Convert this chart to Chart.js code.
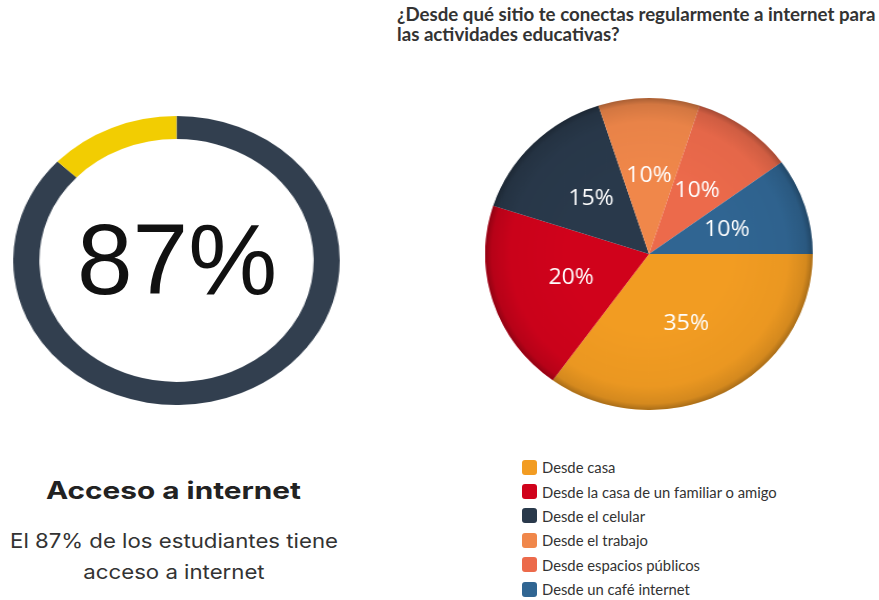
<!DOCTYPE html>
<html lang="es">
<head>
<meta charset="utf-8">
<title>Acceso a internet</title>
<script src="https://cdn.jsdelivr.net/npm/chart.js@4"></script>
<style>
  html, body { margin: 0; padding: 0; background: #fff; }
  body { width: 879px; height: 600px; position: relative; overflow: hidden; }
  .box { position: absolute; }
  #ringBox { left: 32px; top: 116px; width: 289px; height: 289px; transform: scaleX(1.13); transform-origin: center; }
  #pieBox { left: 493px; top: 98px; width: 312px; height: 312px; transform: scaleX(1.05); transform-origin: center; }
  #ringValue { left: 0; top: 209px; width: 354px; text-align: center; font: 100px "Liberation Sans", Arial, sans-serif; line-height: 1; color: #111; }
  #leftTitle { left: 0; top: 477px; width: 347px; text-align: center; font: bold 24px Inter, sans-serif; line-height: 28px; color: #222; transform: scaleX(1.24); transform-origin: center; }
  #leftText { left: 0; top: 526px; width: 348px; text-align: center; font: 20px Inter, sans-serif; line-height: 31px; color: #333; transform: scaleX(1.11); transform-origin: center; }
  #rightTitle { left: 397px; top: 5px; width: 482px; font: bold 18.7px Lato, sans-serif; line-height: 19.5px; color: #333; }
  #legend { left: 522px; top: 455px; margin: 0; padding: 0; list-style: none; font: 14.8px Lato, sans-serif; color: #333; }
  #legend li { height: 24.4px; display: flex; align-items: center; }
  #legend span { width: 15px; height: 15px; border-radius: 3px; margin-right: 5px; display: inline-block; }
</style>
</head>
<body>
<div class="box" id="ringBox"><canvas id="ringChart"></canvas></div>
<div class="box" id="ringValue"></div>
<div class="box" id="leftTitle">Acceso a internet</div>
<div class="box" id="leftText"></div>

<div class="box" id="rightTitle">¿Desde qué sitio te conectas regularmente a internet para las actividades educativas?</div>
<div class="box" id="pieBox"><canvas id="pieChart"></canvas></div>
<ul class="box" id="legend"></ul>

<script>
// Acceso a internet (anillo)
const accessLabels = ['Con acceso', 'Sin acceso'];
const accessValues = [87, 13];
const accessColors = ['#323f4f', '#f2cd02'];

// Lugar de conexión (pastel)
const placeLabels = [
    'Desde casa',
    'Desde la casa de un familiar o amigo',
    'Desde el celular',
    'Desde el trabajo',
    'Desde espacios públicos',
    'Desde un café internet'
];
const placeValues = [35, 20, 15, 10, 10, 10];
const placeColors = ['#f29c22', '#d0021b', '#29394b', '#f0874a', '#ec6a4b', '#306592'];

document.getElementById('ringValue').textContent = accessValues[0] + '%';
document.getElementById('leftText').innerHTML =
    'El ' + accessValues[0] + '% de los estudiantes tiene<br>acceso a internet';

// legend list
const legend = document.getElementById('legend');
placeLabels.forEach(function(label, i) {
    const li = document.createElement('li');
    const sw = document.createElement('span');
    sw.style.background = placeColors[i];
    li.appendChild(sw);
    li.appendChild(document.createTextNode(label));
    legend.appendChild(li);
});

new Chart(document.getElementById('ringChart'), {
    type: 'doughnut',
    data: {
        labels: accessLabels,
        datasets: [{
            data: accessValues,
            backgroundColor: accessColors,
            borderWidth: 0
        }]
    },
    options: {
        responsive: true,
        maintainAspectRatio: false,
        animation: false,
        cutout: '84%',
        plugins: {
            legend: { display: false },
            tooltip: { enabled: false }
        }
    }
});

// darker rim + percentage labels on the pie
const pieShade = {
    id: 'pieShade',
    afterDatasetsDraw(chart) {
        const ctx = chart.ctx;
        const arcs = chart.getDatasetMeta(0).data;
        const p = arcs[0].getProps(['x', 'y', 'outerRadius'], true);
        const g = ctx.createRadialGradient(p.x, p.y, p.outerRadius * 0.5, p.x, p.y, p.outerRadius);
        g.addColorStop(0, 'rgba(0,0,0,0)');
        g.addColorStop(0.7, 'rgba(0,0,0,0.03)');
        g.addColorStop(0.92, 'rgba(0,0,0,0.12)');
        g.addColorStop(1, 'rgba(0,0,0,0.3)');
        ctx.save();
        ctx.beginPath();
        ctx.arc(p.x, p.y, p.outerRadius, 0, Math.PI * 2);
        ctx.fillStyle = g;
        ctx.fill();

        ctx.fillStyle = '#fff';
        ctx.font = '22px "Open Sans", sans-serif';
        ctx.textAlign = 'center';
        ctx.textBaseline = 'middle';
        arcs.forEach(function(arc, i) {
            const pos = arc.tooltipPosition(true);
            ctx.fillText(placeValues[i] + '%', pos.x, pos.y);
        });
        ctx.restore();
    }
};

new Chart(document.getElementById('pieChart'), {
    type: 'pie',
    data: {
        labels: placeLabels,
        datasets: [{
            data: placeValues,
            backgroundColor: placeColors,
            borderWidth: 0
        }]
    },
    options: {
        responsive: true,
        maintainAspectRatio: false,
        animation: false,
        rotation: 90,
        plugins: {
            legend: { display: false },
            tooltip: { enabled: false }
        }
    },
    plugins: [pieShade]
});
</script>
</body>
</html>
